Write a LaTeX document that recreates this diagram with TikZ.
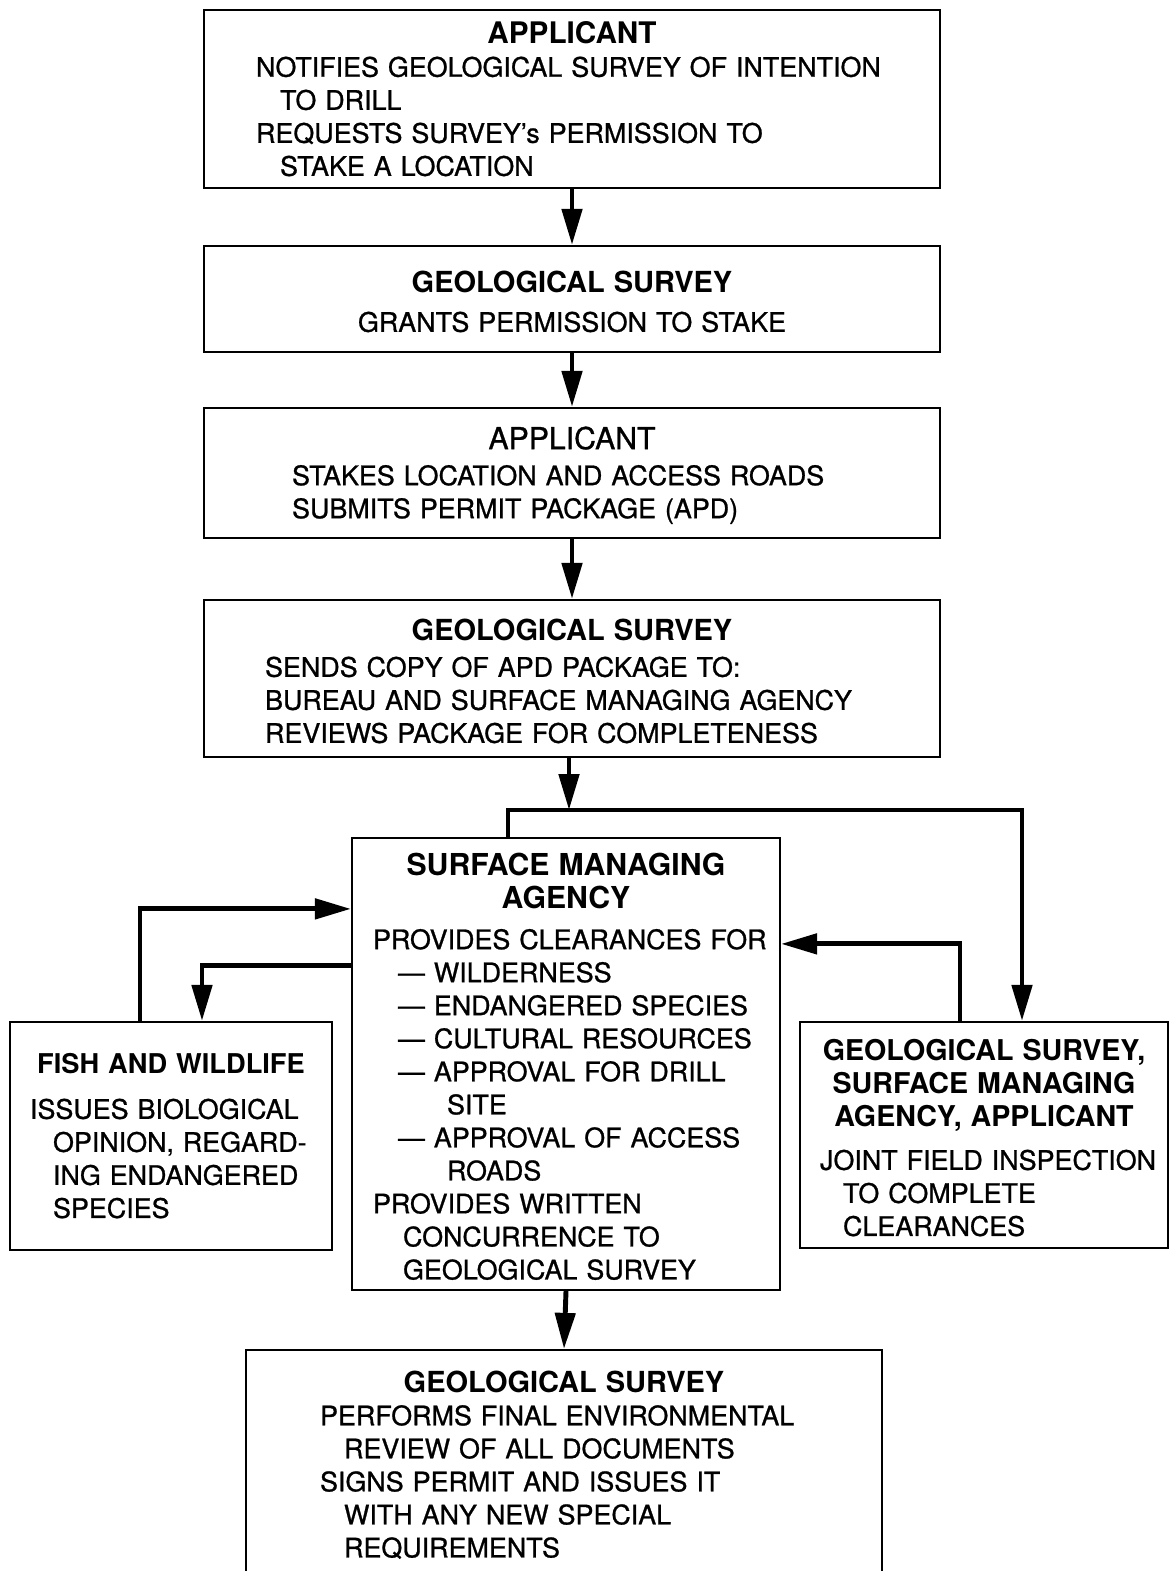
\documentclass[tikz,border=0pt]{standalone}
\usepackage{fontspec}
\setmainfont{TeX Gyre Heros}
\newfontfamily\heavyface[Ligatures=TeX, FakeBold=0.9]{TeX Gyre Heros}
\usepackage{tikz}
\usetikzlibrary{arrows.meta}

\setlength{\parindent}{0pt}
\newdimen\pxu \pxu=0.02cm
\newcommand{\bodyfont}{\heavyface\fontsize{15.3}{18.8}\selectfont}
\newcommand{\boxhead}[2][16.5]{\makebox[\hsize]{\fontsize{#1}{18.8}\selectfont\normalfont\bfseries #2}}
\newcommand{\indentby}[1]{\hspace*{#1\pxu}}
\newcommand{\toppad}{\rule{0pt}{15.4pt}}

\begin{document}
\begin{tikzpicture}[x=0.02cm, y=-0.02cm,
  box/.style={draw, line width=1.3pt, inner xsep=0pt, inner ysep=0pt, text width=#1, align=left, font=\bodyfont},
  flow/.style={line width=2.8pt, -{Triangle[length=0.72cm, width=0.4cm]}}]
\useasboundingbox (0,0) rectangle (1170,1571);
% Boxes
\node[box=14.72cm, minimum height=3.56cm] (app1) at (572,99) {%
  \boxhead[16.9]{APPLICANT}\\
  \indentby{52}NOTIFIES GEOLOGICAL SURVEY OF INTENTION\\
  \indentby{76}TO DRILL\\
  \indentby{52}REQUESTS SURVEY’s PERMISSION TO\\
  \indentby{76}STAKE A LOCATION};
\node[box=14.72cm, minimum height=2.12cm] (gs1) at (572,299) {%
  \toppad\boxhead{GEOLOGICAL SURVEY}\\[3.4pt]
  \makebox[\hsize]{GRANTS PERMISSION TO STAKE}};
\node[box=14.72cm, minimum height=2.6cm] (app2) at (572,473) {%
  \toppad\makebox[\hsize]{\fontsize{17.2}{18.8}\selectfont APPLICANT}\\[1.7pt]
  \indentby{88}STAKES LOCATION AND ACCESS ROADS\\
  \indentby{88}SUBMITS PERMIT PACKAGE (APD)};
\node[box=14.72cm, minimum height=3.14cm] (gs2) at (572,678.5) {%
  \toppad\boxhead{GEOLOGICAL SURVEY}\\[1.7pt]
  \indentby{61}SENDS COPY OF APD PACKAGE TO:\\
  \indentby{61}BUREAU AND SURFACE MANAGING AGENCY\\
  \indentby{61}REVIEWS PACKAGE FOR COMPLETENESS};
\node[box=8.56cm, minimum height=9.04cm] (sma) at (566,1064) {%
  \toppad\boxhead[17.2]{SURFACE MANAGING}\\
  \boxhead[17.2]{AGENCY}\\[4.5pt]
  \indentby{21}PROVIDES CLEARANCES FOR\\
  \indentby{46}--- WILDERNESS\\
  \indentby{46}--- ENDANGERED SPECIES\\
  \indentby{46}--- CULTURAL RESOURCES\\
  \indentby{46}--- APPROVAL FOR DRILL\\
  \indentby{95}SITE\\
  \indentby{46}--- APPROVAL OF ACCESS\\
  \indentby{95}ROADS\\
  \indentby{21}PROVIDES WRITTEN\\
  \indentby{51}CONCURRENCE TO\\
  \indentby{51}GEOLOGICAL SURVEY};
\node[box=6.44cm, minimum height=4.56cm] (fish) at (171,1136) {%
  \boxhead[15.5]{FISH AND WILDLIFE}\\[6.8pt]
  \indentby{20}ISSUES BIOLOGICAL\\
  \indentby{43}OPINION, REGARD-\\
  \indentby{43}ING ENDANGERED\\
  \indentby{43}SPECIES};
\node[box=7.36cm, minimum height=4.52cm] (joint) at (984,1135) {%
  \toppad\boxhead[16.3]{GEOLOGICAL SURVEY,}\\
  \boxhead[16.3]{SURFACE MANAGING}\\
  \boxhead[16.3]{AGENCY, APPLICANT}\\[5.7pt]
  \indentby{20}JOINT FIELD INSPECTION\\
  \indentby{43}TO COMPLETE\\
  \indentby{43}CLEARANCES};
\node[box=12.72cm, minimum height=4.48cm] (gs3) at (564,1462) {%
  \toppad\boxhead{GEOLOGICAL SURVEY}\\
  \indentby{74}PERFORMS FINAL ENVIRONMENTAL\\
  \indentby{98}REVIEW OF ALL DOCUMENTS\\
  \indentby{74}SIGNS PERMIT AND ISSUES IT\\
  \indentby{98}WITH ANY NEW SPECIAL\\
  \indentby{98}REQUIREMENTS};
\coordinate (fork) at (569,810);
% Arrows
\draw[flow] (app1.south) -- (gs1.north);
\draw[flow] (gs1.south) -- (app2.north);
\draw[flow] (app2.south) -- (gs2.north);
\draw[flow] (gs2.south -| fork) -- (fork);
\draw[flow] ([xshift=-1.16cm]sma.north) |- (fork) -| ([xshift=0.76cm]joint.north);
\draw[flow] ([xshift=-0.62cm]fish.north) |- ([yshift=-1.44cm]sma.north west);
\draw[flow] ([yshift=-2.58cm]sma.north west) -| ([xshift=0.62cm]fish.north);
\draw[flow] ([xshift=-0.48cm]joint.north) |- ([yshift=-2.14cm]sma.north east);
\draw[flow] (sma.south) -- (gs3.north);
\end{tikzpicture}
\end{document}
